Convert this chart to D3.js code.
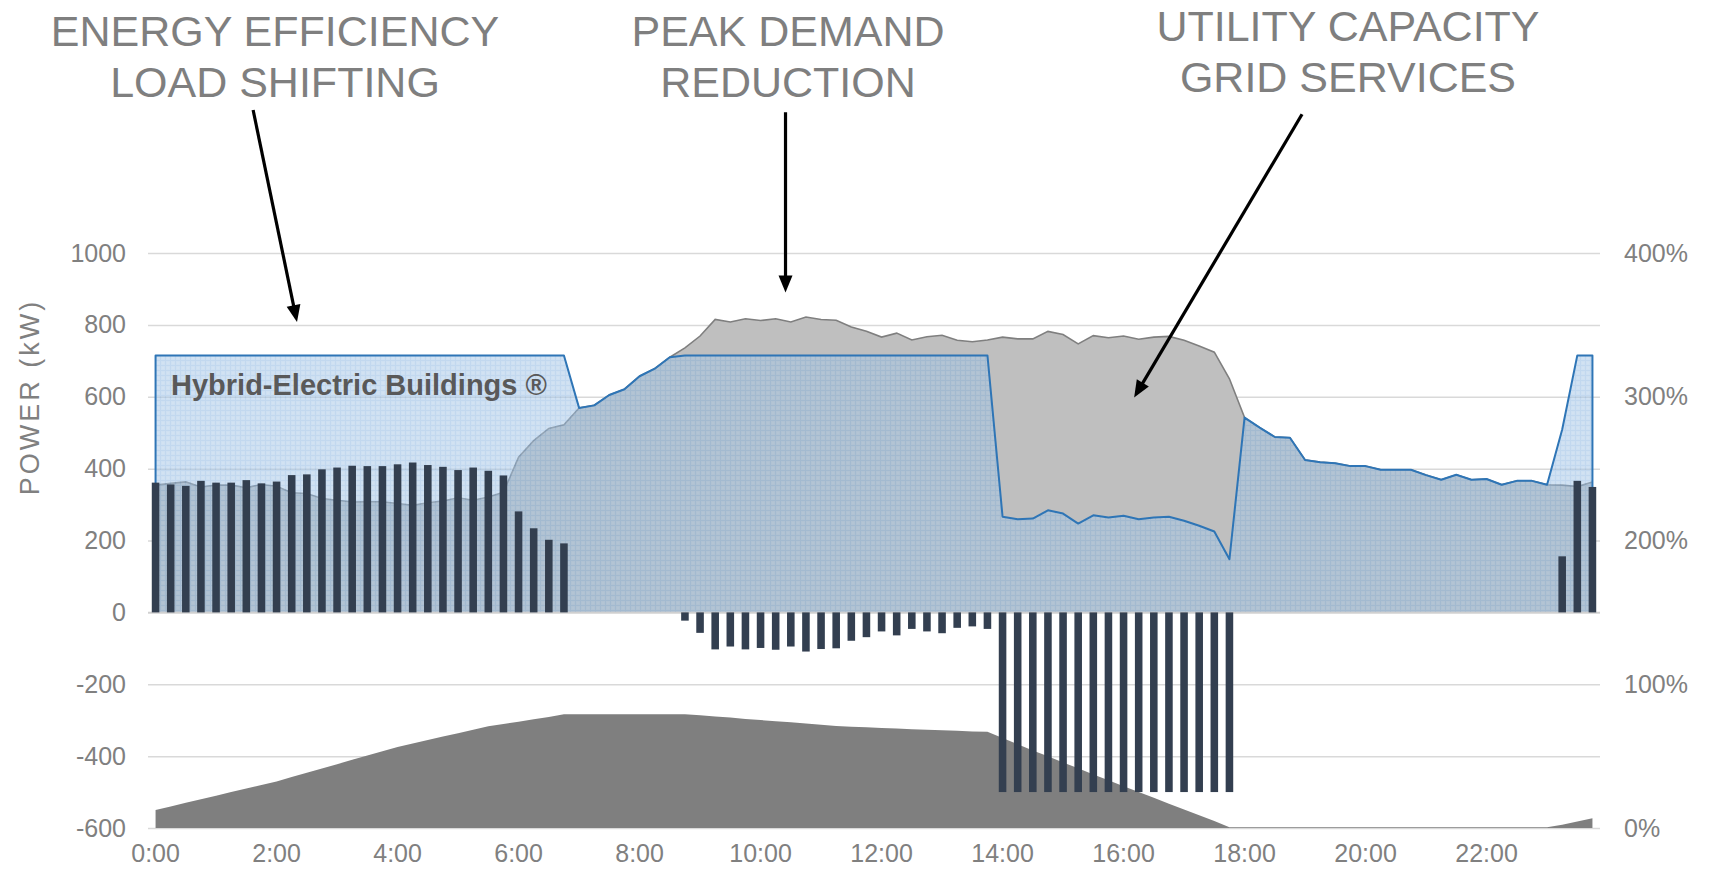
<!DOCTYPE html>
<html>
<head>
<meta charset="utf-8">
<script src="https://cdn.jsdelivr.net/npm/d3@7"></script>
<style>
  html, body { margin: 0; padding: 0; background: #ffffff; }
  svg { display: block; font-family: "Liberation Sans", Arial, sans-serif; }
</style>
</head>
<body>
<svg id="chart" width="1711" height="874"></svg>
<script>
// ---------------- DATA ----------------
const categories = [
  "0:00","0:15","0:30","0:45","1:00","1:15","1:30","1:45","2:00","2:15","2:30","2:45",
  "3:00","3:15","3:30","3:45","4:00","4:15","4:30","4:45","5:00","5:15","5:30","5:45",
  "6:00","6:15","6:30","6:45","7:00","7:15","7:30","7:45","8:00","8:15","8:30","8:45",
  "9:00","9:15","9:30","9:45","10:00","10:15","10:30","10:45","11:00","11:15","11:30","11:45",
  "12:00","12:15","12:30","12:45","13:00","13:15","13:30","13:45","14:00","14:15","14:30","14:45",
  "15:00","15:15","15:30","15:45","16:00","16:15","16:30","16:45","17:00","17:15","17:30","17:45",
  "18:00","18:15","18:30","18:45","19:00","19:15","19:30","19:45","20:00","20:15","20:30","20:45",
  "21:00","21:15","21:30","21:45","22:00","22:15","22:30","22:45","23:00","23:15","23:30","23:45"
];

// Baseline building load (kW) - grey area
const baselineLoad = [
  354,359,363,349,354,354,347,356,351,333,331,317,312,307,308,308,303,298,305,310,319,312,321,334,
  432,478,512,522,
  569,576,605,621,657,678,710,
  736,769,815,808,817,812,817,808,822,815,813,794,782,766,777,758,767,771,757,753,758,
  766,761,761,782,773,747,770,764,769,760,766,768,757,741,724,650,
  542,514,488,486,424,418,415,407,407,397,397,397,382,369,383,369,371,355,366,366,355,
  354,350,363
];

// Hybrid-Electric building load (kW) - blue area
const hybridLoad = [
  715,715,715,715,715,715,715,715,715,715,715,715,715,715,715,715,715,715,715,715,715,715,715,715,
  715,715,715,715,
  569,576,605,621,657,678,710,
  715,715,715,715,715,715,715,715,715,715,715,715,715,715,715,715,715,715,715,715,715,
  266,259,261,284,275,247,270,264,269,259,264,266,255,241,225,148,
  542,514,488,486,424,418,415,407,407,397,397,397,382,369,383,369,371,355,366,366,355,
  509,715,715
];

// Battery charge (+) / discharge (-) power (kW) - bars
const batteryPower = [
  361,356,352,366,361,361,368,359,364,382,384,398,403,408,407,407,412,417,410,405,396,403,394,381,
  281,234,202,192,
  0,0,0,0,0,0,0,
  -23,-57,-103,-95,-103,-99,-104,-95,-109,-102,-100,-79,-69,-53,-64,-46,-53,-58,-43,-39,-46,
  -500,-500,-500,-500,-500,-500,-500,-500,-500,-500,-500,-500,-500,-500,-500,-500,
  0,0,0,0,0,0,0,0,0,0,0,0,0,0,0,0,0,0,0,0,0,
  156,366,349
];

// Battery state of charge (%) - right axis, dark grey area
const stateOfCharge = [
  12.6,15.0,17.5,20.0,22.5,25.0,27.4,29.9,32.4,35.4,38.4,41.4,44.4,47.4,50.4,53.4,56.4,58.8,61.2,63.6,66.0,68.4,70.7,72.4,
  74.0,75.6,77.3,79.1,
  79.1,79.1,79.1,79.1,79.1,79.1,79.1,
  79.1,78.4,77.6,76.8,75.9,75.1,74.3,73.5,72.7,71.8,71.0,70.5,70.1,69.6,69.2,68.7,68.3,68.0,67.6,67.2,66.9,
  62.6,58.3,54.0,49.9,45.6,41.5,37.3,33.2,29.0,25.1,21.0,16.9,12.9,8.9,4.8,0.6,
  0.6,0.6,0.6,0.6,0.6,0.6,0.6,0.6,0.6,0.6,0.6,0.6,0.6,0.6,0.6,0.6,0.6,0.6,0.6,0.6,0.6,
  2.3,4.6,6.8
];

const leftTicks = [-600,-400,-200,0,200,400,600,800,1000];
const rightTicks = [0,100,200,300,400];
const xTickIndex = [0,8,16,24,32,40,48,56,64,72,80,88];
const xTickLabels = ["0:00","2:00","4:00","6:00","8:00","10:00","12:00","14:00","16:00","18:00","20:00","22:00"];

// annotation arrows in (category position, kW) coordinates
const annotations = [
  { lines: ["ENERGY EFFICIENCY", "LOAD SHIFTING"], cx: 275, y0: 46, from: [6.45, 1398], to: [9.35, 808] },
  { lines: ["PEAK DEMAND", "REDUCTION"], cx: 788, y0: 46, from: [41.65, 1392], to: [41.65, 890] },
  { lines: ["UTILITY CAPACITY", "GRID SERVICES"], cx: 1348, y0: 41, from: [75.8, 1386], to: [64.7, 598] }
];

// ---------------- CHART ----------------
(function () {
const svg = d3.select("#chart");
const pLeft = 148, pRight = 1600, pTop = 253, pBottom = 828;

const x = d3.scaleBand().domain(d3.range(categories.length)).range([pLeft, pRight])
  .paddingInner(0.5).paddingOuter(0.25);
const cx = i => x(i) + x.bandwidth() / 2;
const cxF = p => x(0) + x.bandwidth() / 2 + p * x.step();
const y = d3.scaleLinear().domain([-600, 1000]).range([pBottom, pTop]);
const yR = d3.scaleLinear().domain([0, 400]).range([pBottom, pTop]);

// pattern for hybrid area
const defs = svg.append("defs");
const pat = defs.append("pattern").attr("id", "grid").attr("patternUnits", "userSpaceOnUse")
  .attr("width", 5).attr("height", 5);
pat.append("rect").attr("width", 5).attr("height", 5).attr("fill", "#a2c4e6");
pat.append("path").attr("d", "M0,0.5H5M0.5,0V5").attr("stroke", "#8ab5e0").attr("stroke-width", 1);
pat.append("rect").attr("x", 2.5).attr("y", 2.5).attr("width", 1).attr("height", 1).attr("fill", "#bcd4ec");

// grid + left axis
const gL = svg.append("g").attr("transform", `translate(${pLeft},0)`)
  .call(d3.axisLeft(y).tickValues(leftTicks).tickSize(-(pRight - pLeft)).tickPadding(22).tickFormat(d => String(d)));
gL.select(".domain").remove();
gL.selectAll(".tick line").attr("stroke", "#d9d9d9").attr("stroke-width", 1.5);
gL.selectAll(".tick text").attr("fill", "#808080").style("font-size", "25px");

// right axis
const gR = svg.append("g").attr("transform", `translate(${pRight},0)`)
  .call(d3.axisRight(yR).tickValues(rightTicks).tickSize(0).tickPadding(24).tickFormat(d => d + "%"));
gR.select(".domain").remove();
gR.selectAll(".tick text").attr("fill", "#808080").style("font-size", "25px");

// baseline (grey) area
svg.append("path").datum(baselineLoad)
  .attr("d", d3.area().x((d, i) => cx(i)).y0(y(0)).y1(d => y(d)))
  .attr("fill", "#bfbfbf");
svg.append("path").datum(baselineLoad)
  .attr("d", d3.line().x((d, i) => cx(i)).y(d => y(d)))
  .attr("fill", "none").attr("stroke", "#7f7f7f").attr("stroke-width", 1.6);

// hybrid (blue) area
svg.append("path").datum(hybridLoad)
  .attr("d", d3.area().x((d, i) => cx(i)).y0(y(0)).y1(d => y(d)))
  .attr("fill", "url(#grid)").attr("fill-opacity", 0.52);
const outline = [[0, 0]].concat(hybridLoad.map((d, i) => [i, d]), [[hybridLoad.length - 1, 0]]);
svg.append("path").datum(outline)
  .attr("d", d3.line().x(d => cx(d[0])).y(d => y(d[1])))
  .attr("fill", "none").attr("stroke", "#2e75b6").attr("stroke-width", 2).attr("stroke-linejoin", "round");

// state of charge area
svg.append("path").datum(stateOfCharge)
  .attr("d", d3.area().x((d, i) => cx(i)).y0(yR(0)).y1(d => yR(d)))
  .attr("fill", "#7f7f7f");

// zero line
svg.append("line").attr("x1", pLeft).attr("x2", pRight).attr("y1", y(0)).attr("y2", y(0))
  .attr("stroke", "#d0d0d0").attr("stroke-width", 1.5);

// bars
svg.append("g").selectAll("rect")
  .data(batteryPower.map((v, i) => ({ v, i })).filter(d => d.v !== 0))
  .join("rect")
  .attr("x", d => x(d.i)).attr("width", x.bandwidth())
  .attr("y", d => y(Math.max(0, d.v)))
  .attr("height", d => Math.abs(y(d.v) - y(0)))
  .attr("fill", "#333f50");

// x axis labels
const gX = svg.append("g").attr("transform", `translate(0,${pBottom})`)
  .call(d3.axisBottom(x).tickValues(xTickIndex).tickSize(0).tickPadding(16)
    .tickFormat(d => xTickLabels[xTickIndex.indexOf(d)]));
gX.select(".domain").remove();
gX.selectAll(".tick text").attr("fill", "#808080").style("font-size", "25px");

// y axis title
svg.append("text").attr("transform", "translate(39,397) rotate(-90)")
  .attr("text-anchor", "middle").attr("fill", "#808080")
  .style("font-size", "27px").style("letter-spacing", "3px")
  .text("POWER (kW)");

// in-chart label
svg.append("text").attr("x", 171).attr("y", 395)
  .attr("fill", "#595959").style("font-size", "29px").style("font-weight", "bold")
  .text("Hybrid-Electric Buildings ®");

// annotations
annotations.forEach(a => {
  a.lines.forEach((t, k) => {
    svg.append("text").attr("x", a.cx).attr("y", a.y0 + k * 51)
      .attr("text-anchor", "middle").attr("fill", "#7f7f7f").style("font-size", "43px")
      .text(t);
  });
  const x1 = cxF(a.from[0]), y1 = y(a.from[1]);
  const x2 = cxF(a.to[0]), y2 = y(a.to[1]);
  const ang = Math.atan2(y2 - y1, x2 - x1);
  const hl = 17, hw = 7;
  const bx = x2 - hl * Math.cos(ang), by = y2 - hl * Math.sin(ang);
  svg.append("line").attr("x1", x1).attr("y1", y1).attr("x2", bx + 2 * Math.cos(ang)).attr("y2", by + 2 * Math.sin(ang))
    .attr("stroke", "#000").attr("stroke-width", 3.2);
  const px = -Math.sin(ang), py = Math.cos(ang);
  svg.append("path")
    .attr("d", `M${x2},${y2}L${bx + hw * px},${by + hw * py}L${bx - hw * px},${by - hw * py}Z`)
    .attr("fill", "#000");
});
})();
</script>
</body>
</html>
